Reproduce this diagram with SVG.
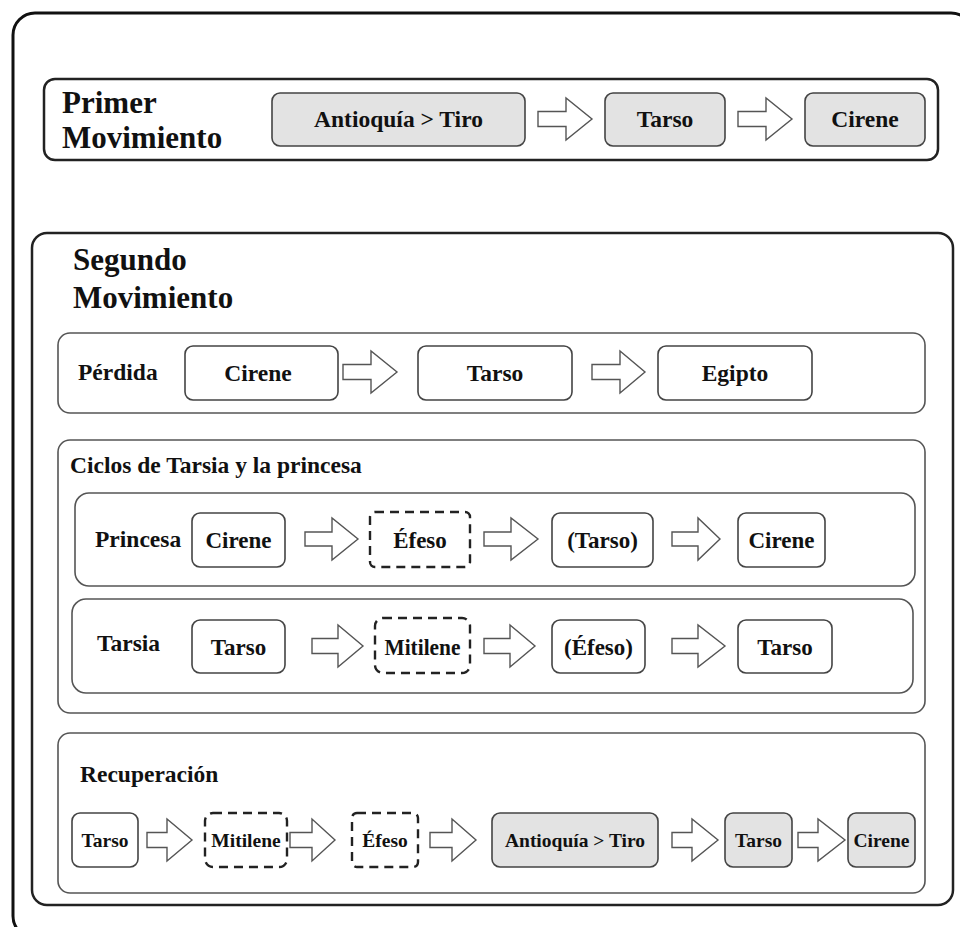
<svg xmlns="http://www.w3.org/2000/svg" width="960" height="927" viewBox="0 0 960 927">
<style>
text{font-family:"Liberation Serif","Times New Roman",serif;font-weight:bold;fill:#111}
.title{font-size:31px}
.lbl{font-size:23.5px}
.n{font-size:23.5px;text-anchor:middle}
.n2{font-size:23px;text-anchor:middle}
.s{font-size:19.5px;text-anchor:middle}
.frame{fill:none;stroke:#111;stroke-width:3}
.sec{fill:#fff;stroke:#222;stroke-width:2.5}
.sub{fill:#fff;stroke:#555;stroke-width:1.6}
.box{fill:#fff;stroke:#444;stroke-width:1.6}
.gray{fill:#e3e3e3;stroke:#444;stroke-width:1.6}
.dash{fill:#fff;stroke:#222;stroke-width:2.4;stroke-dasharray:9 6}
.arr{fill:#fff;stroke:#555;stroke-width:1.4;stroke-linejoin:miter}
</style>
<rect width="960" height="927" fill="#fff"/>
<rect class="frame" x="13" y="13" width="960" height="925" rx="22"/>

<g id="primer">
<rect class="sec" x="44" y="79" width="894" height="81" rx="11"/>
<text class="title" x="62" y="113">Primer</text>
<text class="title" x="62" y="148">Movimiento</text>
</g>
<g id="p-antioquia"><rect class="gray" x="272" y="93" width="253" height="53" rx="8"/><text class="n" x="398.5" y="127">Antioquía &gt; Tiro</text></g>
<g id="p-tarso"><rect class="gray" x="605" y="93" width="120" height="53" rx="8"/><text class="n" x="665" y="127">Tarso</text></g>
<g id="p-cirene"><rect class="gray" x="805" y="93" width="120" height="53" rx="8"/><text class="n" x="865" y="127">Cirene</text></g>

<g id="segundo">
<rect class="sec" x="32" y="233" width="921" height="672" rx="15"/>
<text class="title" x="73" y="270">Segundo</text>
<text class="title" x="73" y="308">Movimiento</text>
</g>

<g id="perdida">
<rect class="sub" x="58" y="333" width="867" height="80" rx="12"/>
<text class="lbl" x="78" y="380">Pérdida</text>
</g>
<g id="pe-cirene"><rect class="box" x="185" y="346" width="153" height="54" rx="8"/><text class="n" x="258" y="381">Cirene</text></g>
<g id="pe-tarso"><rect class="box" x="418" y="346" width="154" height="54" rx="8"/><text class="n" x="495" y="381">Tarso</text></g>
<g id="pe-egipto"><rect class="box" x="658" y="346" width="154" height="54" rx="8"/><text class="n" x="735" y="381">Egipto</text></g>

<g id="ciclos">
<rect class="sub" x="58" y="440" width="867" height="273" rx="12"/>
<text class="lbl" x="70" y="473">Ciclos de Tarsia y la princesa</text>
</g>
<g id="princesa">
<rect class="sub" x="75" y="493" width="840" height="93" rx="14"/>
<text class="lbl" x="95" y="547">Princesa</text>
</g>
<g id="pr-cirene"><rect class="box" x="192" y="513" width="93" height="54" rx="8"/><text class="n2" x="238.5" y="548">Cirene</text></g>
<g id="pr-efeso"><rect class="dash" x="370" y="512" width="100" height="55" rx="5"/><text class="n2" x="420" y="548">Éfeso</text></g>
<g id="pr-tarso"><rect class="box" x="552" y="513" width="101" height="54" rx="8"/><text class="n2" x="602.5" y="548">(Tarso)</text></g>
<g id="pr-cirene2"><rect class="box" x="738" y="513" width="87" height="54" rx="8"/><text class="n2" x="781.5" y="548">Cirene</text></g>

<g id="tarsia">
<rect class="sub" x="72" y="599" width="841" height="94" rx="14"/>
<text class="lbl" x="97" y="651">Tarsia</text>
</g>
<g id="ta-tarso"><rect class="box" x="192" y="620" width="93" height="53" rx="8"/><text class="n2" x="238.5" y="655">Tarso</text></g>
<g id="ta-mitilene"><rect class="dash" x="375" y="618" width="95" height="55" rx="8"/><text class="n2" x="422.5" y="655" textLength="76" lengthAdjust="spacingAndGlyphs">Mitilene</text></g>
<g id="ta-efeso"><rect class="box" x="552" y="620" width="93" height="53" rx="8"/><text class="n2" x="598.5" y="655">(Éfeso)</text></g>
<g id="ta-tarso2"><rect class="box" x="738" y="620" width="94" height="53" rx="8"/><text class="n2" x="785" y="655">Tarso</text></g>

<g id="recuperacion">
<rect class="sub" x="58" y="733" width="867" height="160" rx="12"/>
<text class="lbl" x="80" y="782">Recuperación</text>
</g>
<g id="re-tarso"><rect class="box" x="72" y="813" width="66" height="54" rx="8"/><text class="s" x="105" y="847">Tarso</text></g>
<g id="re-mitilene"><rect class="dash" x="205" y="813" width="82" height="54" rx="8"/><text class="s" x="246" y="847">Mitilene</text></g>
<g id="re-efeso"><rect class="dash" x="352" y="813" width="66" height="54" rx="5"/><text class="s" x="385" y="847">Éfeso</text></g>
<g id="re-antioquia"><rect class="gray" x="492" y="813" width="166" height="54" rx="8"/><text class="s" x="575" y="847">Antioquía &gt; Tiro</text></g>
<g id="re-tarso2"><rect class="gray" x="725" y="813" width="67" height="54" rx="8"/><text class="s" x="758.5" y="847">Tarso</text></g>
<g id="re-cirene"><rect class="gray" x="848" y="813" width="67" height="54" rx="8"/><text class="s" x="881.5" y="847">Cirene</text></g>

<g id="connectors">
<path class="arr" d="M538 111.5H566V98L592 119L566 140V126.5H538Z"/>
<path class="arr" d="M738 111.5H766V98L792 119L766 140V126.5H738Z"/>
<path class="arr" d="M343 364.5H371V351L397 372L371 393V379.5H343Z"/>
<path class="arr" d="M592 364.5H620V351L645 372L620 393V379.5H592Z"/>
<path class="arr" d="M305 532H332V518L358 539L332 560V546H305Z"/>
<path class="arr" d="M484 532H511V518L538 539L511 560V546H484Z"/>
<path class="arr" d="M672 532H698V518L720 539L698 560V546H672Z"/>
<path class="arr" d="M312 638.5H338V625L363 646L338 667V653.5H312Z"/>
<path class="arr" d="M484 638.5H510V625L535 646L510 667V653.5H484Z"/>
<path class="arr" d="M672 638.5H698V625L725 646L698 667V653.5H672Z"/>
<path class="arr" d="M147 832.5H167V819L192 840L167 861V847.5H147Z"/>
<path class="arr" d="M290 832.5H312V819L335 840L312 861V847.5H290Z"/>
<path class="arr" d="M430 832.5H452V819L476 840L452 861V847.5H430Z"/>
<path class="arr" d="M672 832.5H692V819L718 840L692 861V847.5H672Z"/>
<path class="arr" d="M798 832.5H818V819L845 840L818 861V847.5H798Z"/>
</g>
</svg>
